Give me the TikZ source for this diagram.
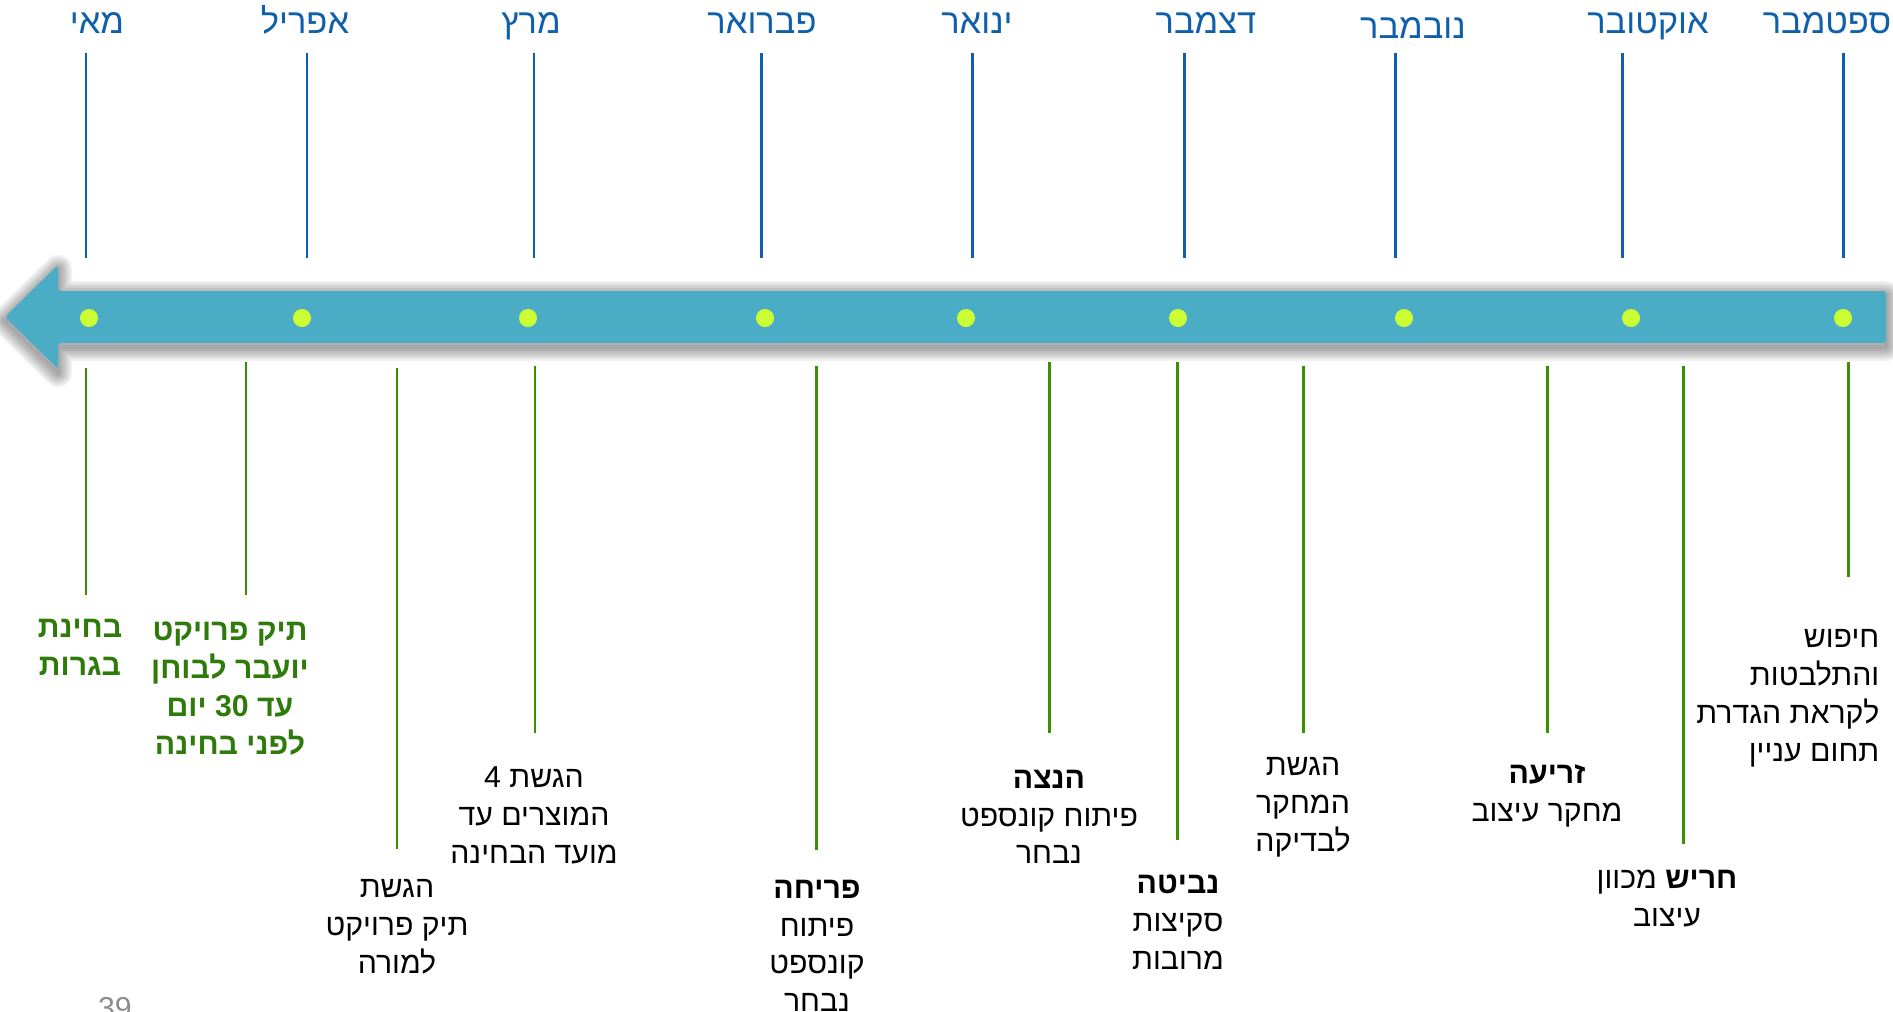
\documentclass[tikz,border=0pt]{standalone}
\usepackage{fontspec}
\setmainfont{Liberation Sans}
\newfontfamily\hebfont[Script=Hebrew]{Liberation Sans}
\TeXXeTstate=1
\newcommand{\heb}[1]{\beginR #1\endR}

\definecolor{monthblue}{HTML}{0F5FAA}
\definecolor{bandcyan}{HTML}{4BACC6}
\definecolor{dotlime}{HTML}{CCFF33}
\definecolor{stemgreen}{HTML}{3A9000}
\definecolor{notegreen}{HTML}{2E7A0A}

\tikzset{
  month/.style={text=monthblue, inner sep=0pt, anchor=base, font=\hebfont\fontsize{9.8}{12}\selectfont},
  monthline/.style={draw=monthblue, line width=.85pt},
  stem/.style={draw=stemgreen, line width=.85pt},
  note/.style={align=center, inner sep=0pt, anchor=north, font=\hebfont\fontsize{8.6}{10.8}\selectfont},
  exam/.style={note, text=notegreen, font=\hebfont\bfseries\fontsize{8.6}{10.8}\selectfont},
  event/.style={circle, fill=dotlime, inner sep=0pt, minimum size=.18cm}
}

\begin{document}
\begin{tikzpicture}[x=.01cm, y=-.01cm]

\useasboundingbox (0,0) rectangle (1893,1012);

% The soft shadow under the time band
\foreach \w in {8,7,...,1}
  \draw[black, opacity=.05, line width=\w pt, line join=round, yshift=-.4mm]
    (5,317) -- (58,265) -- (58,291) -- (1886,291) -- (1886,343)
    -- (58,343) -- (58,369) -- cycle;

% The time band, pointing to the end of the school year
\fill[bandcyan, rounded corners=.3mm] (5,317) -- (58,265) -- (58,291)
  -- (1886,291) -- (1886,343) -- (58,343) -- (58,369) -- cycle;

% The months, from September on the right to May on the left
\node[month] (sep) at (1827,34) {\heb{ספטמבר}};
\node[month] (oct) at (1648,34) {\heb{אוקטובר}};
\node[month] (nov) at (1413,38) {\heb{נובמבר}};
\node[month] (dec) at (1206,34) {\heb{דצמבר}};
\node[month] (jan) at (977,34) {\heb{ינואר}};
\node[month] (feb) at (762,34) {\heb{פברואר}};
\node[month] (mar) at (531,34) {\heb{מרץ}};
\node[month] (apr) at (305,34) {\heb{אפריל}};
\node[month] (may) at (97,34) {\heb{מאי}};

% Month ticks above the band
\coordinate (sepT) at (1843,53);  \coordinate (sepB) at (1843,258);
\coordinate (octT) at (1622,53);  \coordinate (octB) at (1622,258);
\coordinate (novT) at (1395,53);  \coordinate (novB) at (1395,258);
\coordinate (decT) at (1184,53);  \coordinate (decB) at (1184,258);
\coordinate (janT) at (972,53);   \coordinate (janB) at (972,258);
\coordinate (febT) at (761,53);   \coordinate (febB) at (761,258);
\coordinate (marT) at (534,53);   \coordinate (marB) at (534,258);
\coordinate (aprT) at (307,53);   \coordinate (aprB) at (307,258);
\coordinate (mayT) at (86,53);    \coordinate (mayB) at (86,258);
\foreach \m in {sep,oct,nov,dec,jan,feb,mar,apr,may}
  \draw[monthline] (\m T) -- (\m B);

% The dots on the band
\node[event] (d1) at (1843,318) {};
\node[event] (d2) at (1631,318) {};
\node[event] (d3) at (1404,318) {};
\node[event] (d4) at (1178,318) {};
\node[event] (d5) at (966,318) {};
\node[event] (d6) at (765,318) {};
\node[event] (d7) at (528,318) {};
\node[event] (d8) at (302,318) {};
\node[event] (d9) at (89,318) {};

% Stems below the band, one for each stage
\coordinate (s1T) at (1848,362);  \coordinate (s1B) at (1848,577);
\coordinate (s2T) at (1683,366);  \coordinate (s2B) at (1683,844);
\coordinate (s3T) at (1547,366);  \coordinate (s3B) at (1547,733);
\coordinate (s4T) at (1303,366);  \coordinate (s4B) at (1303,733);
\coordinate (s5T) at (1177,362);  \coordinate (s5B) at (1177,840);
\coordinate (s6T) at (1049,362);  \coordinate (s6B) at (1049,733);
\coordinate (s7T) at (816,366);   \coordinate (s7B) at (816,850);
\coordinate (s8T) at (535,366);   \coordinate (s8B) at (535,733);
\coordinate (s9T) at (397,368);   \coordinate (s9B) at (397,849);
\coordinate (s10T) at (246,362);  \coordinate (s10B) at (246,595);
\coordinate (s11T) at (86,368);   \coordinate (s11B) at (86,595);
\foreach \s in {1,...,11}
  \draw[stem] (s\s T) -- (s\s B);

% The stages
\node[note, anchor=north east, align=right] (search) at (1880,629)
  {\heb{חיפוש}\\ \heb{והתלבטות}\\ \heb{לקראת הגדרת}\\ \heb{תחום עניין}};
\node[note] (plow) at (1667,869)
  {\heb{\textbf{חריש} מכוון}\\ \heb{עיצוב}};
\node[note] (sow) at (1547,764)
  {\heb{\textbf{זריעה}}\\ \heb{מחקר עיצוב}};
\node[note] (research) at (1303,757)
  {\heb{הגשת}\\ \heb{המחקר}\\ \heb{לבדיקה}};
\node[note] (sprout) at (1178,874)
  {\heb{\textbf{נביטה}}\\ \heb{סקיצות}\\ \heb{מרובות}};
\node[note] (bud) at (1049,769)
  {\heb{\textbf{הנצה}}\\ \heb{פיתוח קונספט}\\ \heb{נבחר}};
\node[note] (bloom) at (817,879)
  {\heb{\textbf{פריחה}}\\ \heb{פיתוח}\\ \heb{קונספט}\\ \heb{נבחר}};
\node[note] (products) at (534,766)
  {\heb{הגשת \beginL4\endL}\\ \heb{המוצרים עד}\\ \heb{מועד הבחינה}};
\node[note] (teacher) at (397,879)
  {\heb{הגשת}\\ \heb{תיק פרויקט}\\ \heb{למורה}};
\node[exam] (examiner) at (230,621)
  {\heb{תיק פרויקט}\\ \heb{יועבר לבוחן}\\ \heb{עד \beginL30\endL{} יום}\\ \heb{לפני בחינה}};
\node[exam] (bagrut) at (80,618)
  {\heb{בחינת}\\ \heb{בגרות}};

% Page number
\node[note, text=gray!90] (page) at (115,997) {39};

\end{tikzpicture}
\end{document}
